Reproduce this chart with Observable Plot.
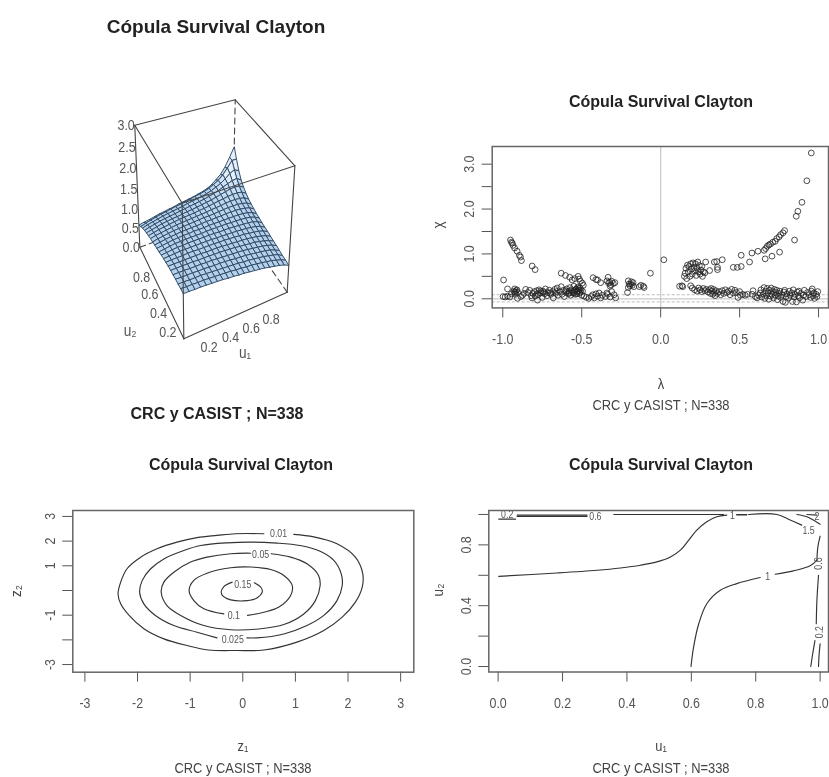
<!DOCTYPE html>
<html><head><meta charset="utf-8">
<script src="https://cdn.jsdelivr.net/npm/d3@7"></script>
<script src="https://cdn.jsdelivr.net/npm/@observablehq/plot@0.6"></script>
<style>
html,body{margin:0;padding:0;background:#fff;}
#page{position:relative;width:829px;height:777px;overflow:hidden;filter:blur(0.45px);font-family:"Liberation Sans",Arial,sans-serif;color:#333;}
#page svg{position:absolute;background:transparent;}
.lab{position:absolute;transform:translate(-50%,-50%);white-space:nowrap;}
.narrow{font-size:15px;color:#444;transform:translate(-50%,-50%) scaleX(.86);}
.rot{font-size:15px;color:#444;transform:translate(-50%,-50%) rotate(-90deg) scaleX(.9);}
.bold{font-weight:bold;color:#222;}
</style></head><body><div id="page"></div>
<script>
const titleText = "Cópula Survival Clayton";
const subText = "CRC y CASIST ; N=338";

// surface density, rows u2 = 0..1, columns u1 = 0..1
const surface = [
[1.06,1.06,1.05,1.05,1.04,1.03,1.02,1.01,.99,.98,.96,.95,.93,.91,.89,.87,.84,.81,.78,.74,.68],
[1.06,1.05,1.05,1.04,1.04,1.03,1.02,1.01,1.00,.99,.97,.96,.94,.93,.91,.89,.86,.84,.80,.76,.70],
[1.05,1.05,1.04,1.04,1.04,1.03,1.02,1.01,1.00,.99,.98,.97,.95,.94,.92,.90,.88,.85,.82,.78,.71],
[1.05,1.04,1.04,1.04,1.03,1.03,1.02,1.01,1.01,1.00,.99,.97,.96,.95,.93,.91,.89,.87,.84,.79,.73],
[1.04,1.04,1.04,1.03,1.03,1.03,1.02,1.02,1.01,1.00,.99,.98,.97,.96,.94,.92,.90,.88,.85,.81,.75],
[1.03,1.03,1.03,1.03,1.03,1.02,1.02,1.02,1.01,1.01,1.00,.99,.98,.96,.95,.93,.92,.89,.86,.82,.76],
[1.02,1.02,1.02,1.02,1.02,1.02,1.02,1.01,1.01,1.01,1.00,.99,.98,.97,.96,.95,.93,.91,.88,.84,.78],
[1.00,1.01,1.01,1.01,1.02,1.02,1.01,1.01,1.01,1.01,1.00,1.00,.99,.98,.97,.96,.94,.92,.90,.86,.80],
[.98,.99,1.00,1.01,1.01,1.01,1.01,1.01,1.01,1.01,1.00,1.00,.99,.99,.98,.97,.96,.94,.92,.88,.81],
[.96,.97,.99,1.00,1.00,1.01,1.01,1.01,1.01,1.01,1.01,1.00,1.00,1.00,.99,.98,.97,.96,.94,.90,.83],
[.93,.95,.97,.99,.99,1.00,1.00,1.00,1.00,1.01,1.01,1.01,1.01,1.01,1.00,1.00,.99,.98,.96,.92,.85],
[.91,.93,.95,.97,.98,.99,.99,1.00,1.00,1.00,1.01,1.01,1.01,1.01,1.01,1.01,1.01,1.00,.98,.94,.87],
[.89,.91,.93,.95,.96,.98,.98,.99,.99,1.00,1.01,1.01,1.02,1.02,1.03,1.03,1.03,1.02,1.00,.97,.90],
[.86,.89,.91,.93,.95,.96,.97,.98,.99,1.00,1.01,1.01,1.02,1.03,1.04,1.05,1.05,1.05,1.03,1.00,.93],
[.84,.87,.89,.91,.93,.95,.96,.97,.98,.99,1.00,1.01,1.03,1.04,1.05,1.07,1.08,1.08,1.07,1.04,.97],
[.81,.84,.87,.89,.91,.93,.95,.96,.97,.98,1.00,1.01,1.03,1.05,1.07,1.09,1.11,1.12,1.12,1.10,1.03],
[.78,.81,.84,.87,.89,.91,.92,.94,.96,.97,.99,1.01,1.03,1.05,1.08,1.11,1.14,1.17,1.18,1.17,1.10],
[.74,.78,.81,.84,.86,.88,.90,.92,.94,.96,.98,1.00,1.02,1.05,1.08,1.12,1.17,1.22,1.26,1.28,1.20],
[.70,.74,.77,.80,.83,.85,.87,.89,.91,.94,.96,.98,1.00,1.03,1.07,1.12,1.18,1.26,1.36,1.42,1.36],
[.64,.68,.72,.75,.78,.80,.83,.85,.87,.90,.92,.95,.97,1.00,1.04,1.10,1.17,1.28,1.42,1.58,1.58],
[.58,.61,.63,.66,.69,.71,.73,.75,.78,.80,.82,.84,.87,.90,.94,1.00,1.10,1.20,1.36,1.58,1.82]];
const zTicks = [0,.5,1,1.5,2,2.5,3];
const uTicks3d = [.2,.4,.6,.8];

// chi-plot: [lambda, chi]
const upperLeft = [[-.951,1.31],[-.945,1.26],[-.94,1.24],[-.935,1.19],[-.925,1.13],[-.909,1.06],[-.895,.97],[-.888,.93],[-.882,.85],[-.814,.73],[-.795,.65],[-.63,.57],[-.603,.52],[-.576,.48],[-.56,.42],[-.544,.45],[-.523,.5],[-.515,.44],[-.508,.39],[-.496,.35],[-.49,.3],[-.428,.47],[-.41,.43],[-.40,.42],[-.38,.36],[-.333,.48],[-.34,.4],[-.33,.35],[-.323,.37],[-.315,.31],[-.31,.39],[-.30,.34],[-.29,.36],[-.32,.28],[-.205,.4],[-.2,.33],[-.195,.29],[-.19,.33],[-.185,.38],[-.18,.3],[-.175,.36],[-.17,.27],[-.205,.25],[-.21,.14],[-.135,.27],[-.125,.3],[-.11,.28],[-.105,.25],[-.065,.57],[.02,.87]];
const lowerLeft = [[-.995,.42],[-.97,.22],[-.998,.05],[-.985,.04],[-.97,.06],[-.955,.04],[-.945,.11],[-.925,.22],[-.925,.15],[-.92,.1],[-.907,.01],[-.915,.18],[-.905,.14],[-.885,.05],[-.875,.08],[-.865,.12],[-.855,.21],[-.84,.14],[-.83,.19],[-.82,.07],[-.815,.02],[-.81,.12],[-.8,.16],[-.795,.06],[-.785,.18],[-.78,-.03],[-.775,.09],[-.77,.2],[-.76,.13],[-.75,.03],[-.745,.17],[-.735,.11],[-.73,.22],[-.72,.07],[-.715,.14],[-.705,.19],[-.695,.1],[-.685,.16],[-.68,.02],[-.67,.21],[-.665,.12],[-.655,.24],[-.65,.08],[-.64,.16],[-.63,.27],[-.625,.1],[-.615,.19],[-.61,.05],[-.6,.14],[-.595,.22],[-.585,.11],[-.58,.17],[-.575,.25],[-.57,.08],[-.565,.2],[-.555,.13],[-.55,.28],[-.545,.18],[-.54,.1],[-.535,.22],[-.53,.15],[-.525,.26],[-.52,.19],[-.515,.12],[-.51,.24],[-.5,.08],[-.495,.17],[-.485,.06],[-.47,.03],[-.455,.01],[-.44,.05],[-.43,.09],[-.42,.02],[-.41,.11],[-.4,.06],[-.39,.13],[-.38,.02],[-.37,.08],[-.35,.05],[-.34,.13],[-.335,.1],[-.32,.04],[-.31,.16],[-.295,.09],[-.285,.02],[-.93,.17],[-.92,.14],[-.91,.2],[-.78,.12],[-.76,.17],[-.74,.14],[-.7,.13],[-.66,.16],[-.6,.18],[-.58,.13],[-.56,.16],[-.55,.12],[-.54,.2],[-.53,.11],[-.525,.17],[-.52,.23],[-.51,.15],[-.505,.2]];
const upperRight = [[.15,.5],[.155,.57],[.16,.68],[.165,.45],[.17,.75],[.175,.6],[.18,.72],[.185,.5],[.19,.78],[.195,.66],[.2,.55],[.205,.8],[.21,.7],[.215,.62],[.22,.78],[.225,.52],[.23,.68],[.235,.82],[.24,.6],[.245,.74],[.25,.55],[.255,.64],[.26,.72],[.265,.5],[.27,.6],[.28,.58],[.285,.82],[.31,.63],[.34,.82],[.355,.83],[.36,.65],[.36,.7],[.39,.87],[.46,.7],[.485,.7],[.51,.72],[.51,.97],[.563,.82],[.578,1.02],[.616,1.06],[.662,.89],[.705,.95],[.753,1.04],[.655,1.08],[.665,1.12],[.675,1.17],[.685,1.2],[.695,1.22],[.71,1.26],[.725,1.28],[.735,1.34],[.75,1.38],[.76,1.43],[.775,1.47],[.785,1.52],[.848,1.31],[.859,1.84],[.869,1.95],[.895,2.15],[.926,2.63],[.954,3.25]];
const lowerRight = [[.12,.28],[.135,.29],[.14,.27],[.19,.29],[.2,.24],[.215,.2],[.23,.17],[.24,.24],[.25,.2],[.26,.16],[.27,.23],[.28,.18],[.29,.21],[.3,.15],[.31,.2],[.315,.12],[.32,.23],[.325,.17],[.33,.1],[.335,.21],[.34,.14],[.345,.07],[.35,.18],[.36,.12],[.37,.16],[.38,.09],[.39,.18],[.4,.12],[.41,.2],[.42,.14],[.43,.17],[.44,.09],[.45,.21],[.46,.13],[.47,.19],[.48,.14],[.49,.03],[.5,.16],[.505,.08],[.52,.1],[.535,.08],[.55,.1],[.58,.1],[.585,.18],[.6,.05],[.61,.02],[.62,.08],[.63,.13],[.635,.2],[.64,.04],[.65,.1],[.655,.25],[.66,.01],[.665,.17],[.67,.07],[.675,.23],[.68,.13],[.685,-.01],[.69,.19],[.695,.06],[.7,.24],[.705,.1],[.71,.16],[.715,.02],[.72,.21],[.725,.08],[.73,.14],[.735,.19],[.74,-.02],[.745,.06],[.75,.12],[.755,.17],[.76,.03],[.77,.09],[.775,-.06],[.78,.15],[.785,.19],[.79,-.08],[.795,.05],[.8,.11],[.81,.02],[.815,.17],[.82,.08],[.83,.13],[.835,-.06],[.84,.2],[.845,.04],[.85,.1],[.86,-.07],[.865,.15],[.87,.07],[.875,.17],[.88,.02],[.89,.12],[.9,-.03],[.905,.08],[.91,.19],[.92,.05],[.93,.14],[.94,.09],[.95,.03],[.955,.17],[.96,.22],[.965,.07],[.97,.13],[.975,.01],[.985,.1],[.99,.05],[.995,.16]];
const chiRefs = [0];
const chiBounds = [-.07,.09];

// normal-scale contour lines: [z1, z2]
const c01 = [[.97,2.27],[1.35,2.17],[1.79,1.89],[2.14,1.35],[2.28,.68],[2.27,.14],[2.14,-.47],[1.89,-1.08],[1.54,-1.62],[1.03,-2.09],[.40,-2.41],[-.11,-2.43],[-.65,-2.41],[-1.06,-2.23],[-1.50,-1.96],[-1.88,-1.55],[-2.16,-1.01],[-2.32,-.54],[-2.37,-.14],[-2.32,.34],[-2.20,.88],[-1.94,1.35],[-1.63,1.69],[-1.25,1.96],[-.87,2.14],[-.49,2.23],[-.14,2.30],[.40,2.30]];
const c025 = [[.08,-1.92],[.27,-1.92],[.78,-1.76],[1.22,-1.42],[1.54,-1.01],[1.79,-.41],[1.89,.20],[1.87,.68],[1.73,1.22],[1.47,1.59],[1.09,1.82],[.65,1.92],[.15,1.96],[-.30,1.93],[-.80,1.82],[-1.12,1.62],[-1.50,1.28],[-1.75,.88],[-1.91,.41],[-1.96,-.07],[-1.88,-.54],[-1.66,-1.01],[-1.31,-1.42],[-.87,-1.69],[-.49,-1.92]];
const c05 = [[.54,1.49],[.91,1.35],[1.22,1.08],[1.44,.61],[1.47,.20],[1.38,-.41],[1.16,-.95],[.78,-1.38],[.34,-1.55],[-.23,-1.59],[-.74,-1.42],[-1.18,-1.01],[-1.44,-.61],[-1.55,-.07],[-1.50,.34],[-1.31,.74],[-.99,1.15],[-.68,1.35],[-.23,1.49],[.15,1.51]];
const c1 = [[.09,-1.01],[.40,-.88],[.68,-.68],[.91,-.20],[.94,.20],[.78,.61],[.53,.85],[.15,.95],[-.23,.92],[-.68,.70],[-.93,.41],[-1.02,0],[-.93,-.41],[-.74,-.74],[-.36,-.95]];
const c15 = [[.22,.31],[.35,.11],[.37,-.07],[.27,-.30],[.08,-.41],[-.23,-.38],[-.37,-.24],[-.41,-.07],[-.36,.16],[-.20,.34]];
const normalContours = [c01,c025,c05,c1,c15];
const normalLabels = [["0.01",.68,2.30],["0.05",.34,1.46],["0.15",0,.23],["0.1",-.17,-1.01],["0.025",-.19,-1.97]];

// copula-scale contour lines: [u1, u2]
const uA = [[.002,.593],[.183,.615],[.307,.633],[.38,.648],[.442,.666],[.493,.688],[.535,.72],[.566,.765],[.592,.831],[.617,.897],[.648,.952],[.679,.985],[.71,.996]];
const uB = [[.599,0],[.607,.127],[.623,.281],[.648,.413],[.69,.501],[.741,.545],[.814,.585]];
const uC = [[.86,.607],[.917,.629],[.969,.662],[.99,.70]];
const tA = [[.059,.996],[.276,.996]];
const tB = [[.059,.987],[.276,.987]];
const tC = [[.002,.969],[.054,.969]];
const tD = [[.359,1],[.70,1]];
const tE = [[.741,1],[.772,1]];
const tE2 = [[.741,.997],[.772,.997]];
const tF = [[.778,1],[.866,1],[.907,.963],[.943,.93]];
const tG = [[.928,1],[.959,.985],[.979,.963],[1,.936]];
const tH = [[.959,1],[.99,.996]];
const rA = [[1,.857],[.993,.787],[.99,.70]];
const rB = [[.995,.60],[.99,.435],[.988,.281]];
const rC = [[.984,.171],[.977,.084],[.971,0]];
const rD = [[1,.149],[.997,.084],[.995,0]];
const copulaContours = [uA,uB,uC,tA,tB,tC,tD,tE,tE2,tF,tG,tH,rA,rB,rC,rD];
const copulaLabels = [["0.2",.028,1,0],["0.6",.302,.989,0],["1",.728,.993,0],["1.5",.964,.897,0],["1",.837,.593,0],["2",.99,.989,0],["0.6",.995,.677,-90],["0.2",.997,.226,-90]];

const lambdaTicks = [-1,-.5,0,.5,1];
const chiTicks = [0,.5,1,1.5,2,2.5,3];
const chiTickLabels = [0,1,2,3];
const z1Ticks = [-3,-2,-1,0,1,2,3];
const z2Ticks = [-3,-2,-1,0,1,2,3];
const z2TickLabels = [-3,-1,1,2,3];
const u1Ticks = [0,.2,.4,.6,.8,1];
const u2Ticks = [0,.2,.4,.6,.8,1];
const u2TickLabels = [0,.4,.8];

const page = document.getElementById("page");
const FONT = '"Liberation Sans",sans-serif';
const INK = "#555";
function place(svg,left,top,squeeze=.8){
  svg.style.left=left+"px";svg.style.top=top+"px";page.appendChild(svg);
  svg.querySelectorAll("text").forEach(t=>{
    const len=t.getComputedTextLength();
    if(len>0){t.setAttribute("textLength",(len*squeeze).toFixed(1));t.setAttribute("lengthAdjust","spacingAndGlyphs");}
  });
}
function label(text,cx,cy,cls,size){const d=document.createElement("div");d.className="lab "+cls;d.textContent=text;d.style.left=cx+"px";d.style.top=cy+"px";if(size)d.style.fontSize=size+"px";page.appendChild(d);}
const hy = v => String(v).replace("\u2212","-");

// ---------- Panel A: perspective surface ----------
const cam = {o:[310,805],a:[620,665],b:[178,530],c:[305,398],w:[.1,.17,-.09],s:3};
function proj(u,v,z){
  const t=z/3,[w1,w2,w3]=cam.w,d=1+w1*u+w2*v+w3*t;
  const f=i=>(cam.a[i]*(1+w1)-cam.o[i])*u+(cam.b[i]*(1+w2)-cam.o[i])*v+(cam.c[i]*(1+w3)-cam.o[i])*t+cam.o[i];
  return [f(0)/d/cam.s,f(1)/d/cam.s];
}
const n=surface.length-1;
const cells=[];
for(let j=n-1;j>=0;j--)for(let i=n-1;i>=0;i--){
  const id=j*100+i, q=[[i,j],[i+1,j],[i+1,j+1],[i,j+1],[i,j]];
  const g=(surface[j][i+1]+surface[j+1][i+1]-surface[j][i]-surface[j+1][i])+(surface[j+1][i]+surface[j+1][i+1]-surface[j][i]-surface[j][i+1]);
  const fill=d3.interpolateRgb("#b4d0ea","#e6f0fa")(Math.max(0,Math.min(1,g*3)));
  for(const [a,b] of q){const p=proj(a/n,b/n,surface[b][a]);cells.push({id,x:p[0],y:p[1],fill});}
}
const seg=(pts)=>pts.map(([u,v,z])=>{const p=proj(u,v,z);return {x:p[0],y:p[1]};});
const hidden=[[[1,1,0],[1,1,3]],[[0,1,0],[1,1,0]],[[1,0,0],[1,1,0]]];
const solid=[[[0,1,3],[1,1,3]],[[1,1,3],[1,0,3]],[[1,0,3],[0,0,3]],[[0,0,3],[0,1,3]],[[0,1,3],[0,1,0]],[[0,0,3],[0,0,0]],[[1,0,3],[1,0,0]],[[0,0,0],[1,0,0]],[[0,0,0],[0,1,0]]];
const lbl=(arr,f)=>arr.map(v=>{const [u,w,z,t]=f(v);const p=proj(u,w,z);return {x:p[0],y:p[1],t};});
const line3=(list,opts)=>list.map(s=>Plot.line(seg(s),{x:"x",y:"y",stroke:"#444",strokeWidth:1.1,...opts}));
place(Plot.plot({width:260,height:310,margin:0,x:{type:"identity",axis:null},y:{type:"identity",axis:null},color:{type:"identity"},style:{background:"transparent"},
 marks:[
  ...line3(hidden,{strokeDasharray:"6,4"}),
  Plot.line(cells,{x:"x",y:"y",z:"id",fill:"fill",stroke:"#2e4965",strokeWidth:.95}),
  ...line3(solid,{}),
  Plot.text(lbl(zTicks,v=>[0,1,v,v.toFixed(1)]),{x:"x",y:"y",text:"t",textAnchor:"end",dx:0,fontSize:15.5,fontFamily:FONT,fill:INK}),
  Plot.text(lbl(uTicks3d,v=>[v,0,0,String(v)]),{x:"x",y:"y",text:"t",dx:3,dy:18,fontSize:15.5,fontFamily:FONT,fill:INK}),
  Plot.text(lbl(uTicks3d,v=>[0,v,0,String(v)]),{x:"x",y:"y",text:"t",dx:-6,dy:14,fontSize:15.5,fontFamily:FONT,fill:INK}),
  Plot.text(lbl([.55],v=>[v,0,0,"u\u2081"]),{x:"x",y:"y",text:"t",dx:2,dy:40,fontSize:17,fontFamily:FONT,fill:INK}),
  Plot.text(lbl([.5],v=>[0,v,0,"u\u2082"]),{x:"x",y:"y",text:"t",dx:-30,dy:41,fontSize:17,fontFamily:FONT,fill:INK})
 ]}),80,70);
label(titleText,216,27,"bold",19);
label(subText,217,414,"bold",16);

// ---------- shared axes ----------
const axX=(ticks,fmt)=>Plot.axisX({ticks,tickFormat:fmt,tickSize:10,tickPadding:15,fontSize:15.5,fontFamily:FONT,stroke:INK,fill:INK,label:null,anchor:"bottom"});
const axY=(ticks,labels,fmt)=>Plot.axisY({ticks,tickFormat:d=>labels.includes(d)?fmt(d):"",tickSize:10,tickPadding:8,tickRotate:-90,fontSize:15.5,fontFamily:FONT,stroke:INK,fill:INK,label:null,anchor:"left"});
const frame=Plot.frame({stroke:"#666",strokeWidth:1.5});

// ---------- Panel B: chi-plot ----------
const pts=[...upperLeft,...lowerLeft,...upperRight,...lowerRight];
place(Plot.plot({width:415,height:240,marginLeft:77.7,marginRight:1,marginTop:26,marginBottom:52.6,
 x:{domain:[-1.067,1.063]},y:{domain:[-.203,3.394]},style:{background:"transparent"},
 marks:[
  Plot.ruleY(chiRefs,{stroke:"#c8c8c8",strokeWidth:1.2}),
  Plot.ruleX(chiRefs,{stroke:"#c8c8c8",strokeWidth:1.2}),
  Plot.ruleY(chiBounds,{stroke:"#bbb",strokeDasharray:"3,2"}),
  Plot.dot(pts,{x:d=>d[0],y:d=>d[1],r:2.9,stroke:"#222",strokeWidth:.8,fill:"none"}),
  axX(lambdaTicks,d=>hy(d.toFixed(1))),
  axY(chiTicks,chiTickLabels,d=>d.toFixed(1)),
  frame
 ]}),414,120);
label(titleText,661,102,"bold",16);
label("\u03c7",437,225,"rot");
label("\u03bb",661,383,"narrow");
label(subText,661,404,"narrow");

// ---------- Panel C: normal-scale contours ----------
place(Plot.plot({width:400,height:230,marginLeft:52.3,marginRight:6.7,marginTop:20,marginBottom:48.3,
 x:{domain:[-3.23,3.25]},y:{domain:[-3.31,3.24]},style:{background:"transparent"},
 marks:[
  ...normalContours.map(c=>Plot.line(c,{x:d=>d[0],y:d=>d[1],curve:"catmull-rom",stroke:"#333",strokeWidth:1.15})),
  Plot.text(normalLabels,{x:d=>d[1],y:d=>d[2],text:d=>d[0],fontSize:11,fontFamily:FONT,fill:INK}),
  axX(z1Ticks,d=>String(d)),
  axY(z2Ticks,z2TickLabels,d=>String(d)),
  frame
 ]}),20,490);
label(titleText,241,465,"bold",16);
label("z\u2081",243,745,"narrow");
label("z\u2082",15,591,"rot");
label(subText,243,767,"narrow");

// ---------- Panel D: copula-scale contours ----------
place(Plot.plot({width:415,height:230,marginLeft:74.3,marginRight:1,marginTop:20,marginBottom:48.5,
 x:{domain:[-.029,1.026]},y:{domain:[-.036,1.026]},style:{background:"transparent"},
 marks:[
  ...copulaContours.map(c=>Plot.line(c,{x:d=>d[0],y:d=>d[1],curve:"catmull-rom",stroke:"#333",strokeWidth:1.15})),
  Plot.text(copulaLabels.filter(d=>d[3]===0),{x:d=>d[1],y:d=>d[2],text:d=>d[0],fontSize:11,fontFamily:FONT,fill:INK}),
  Plot.text(copulaLabels.filter(d=>d[3]!==0),{x:d=>d[1],y:d=>d[2],text:d=>d[0],rotate:-90,fontSize:11,fontFamily:FONT,fill:INK}),
  axX(u1Ticks,d=>d.toFixed(1)),
  axY(u2Ticks,u2TickLabels,d=>d.toFixed(1)),
  frame
 ]}),414,490);
label(titleText,661,465,"bold",16);
label("u\u2082",437,590,"rot");
label("u\u2081",661,745,"narrow");
label(subText,661,767,"narrow");
</script></body></html>
